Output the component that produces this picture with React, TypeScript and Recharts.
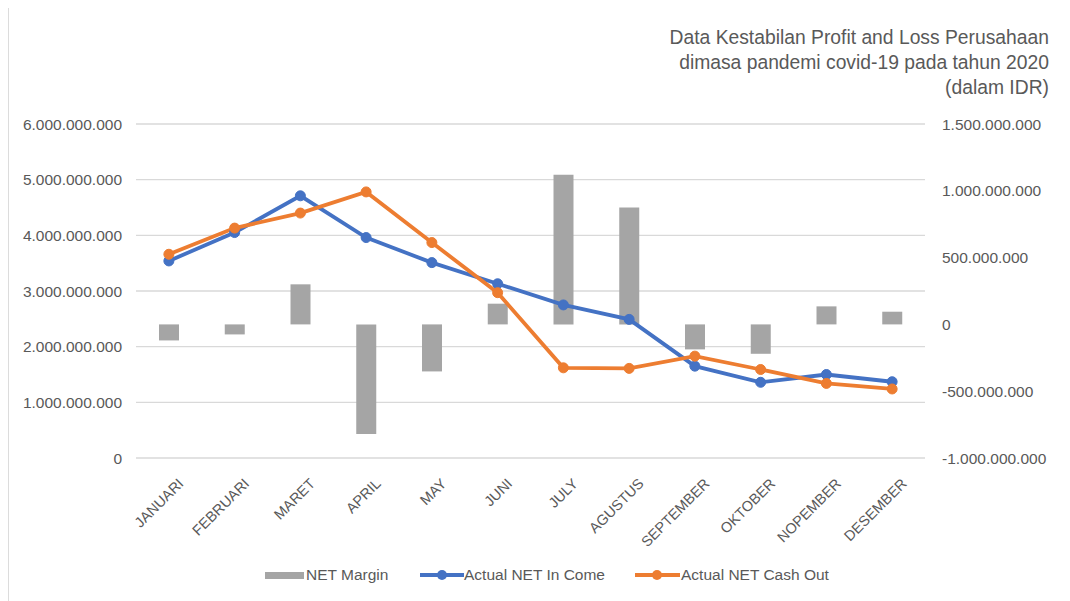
import { Bar, CartesianGrid, ComposedChart, Line, XAxis, YAxis } from 'recharts';

const BLUE = '#4472C4';
const ORANGE = '#ED7D31';
const GRAY = '#A5A5A5';
const GRID = '#D9D9D9';
const TEXT = '#595959';
const FONT = '"Liberation Sans", Arial, sans-serif';

const months = [
  'JANUARI', 'FEBRUARI', 'MARET', 'APRIL', 'MAY', 'JUNI',
  'JULY', 'AGUSTUS', 'SEPTEMBER', 'OKTOBER', 'NOPEMBER', 'DESEMBER',
];

// NET Margin (right axis)
const netMargin = [
  -120e6, -75e6, 300e6, -820e6, -352e6, 155e6,
  1120e6, 875e6, -187e6, -220e6, 135e6, 95e6,
];

// Actual NET In Come (left axis)
const netIncome = [
  3.54e9, 4.05e9, 4.71e9, 3.96e9, 3.51e9, 3.13e9,
  2.75e9, 2.49e9, 1.65e9, 1.36e9, 1.5e9, 1.37e9,
];

// Actual NET Cash Out (left axis)
const netCashOut = [
  3.66e9, 4.13e9, 4.4e9, 4.78e9, 3.87e9, 2.97e9,
  1.62e9, 1.61e9, 1.83e9, 1.59e9, 1.34e9, 1.24e9,
];

const leftTicks = [0, 1e9, 2e9, 3e9, 4e9, 5e9, 6e9];
const rightTicks = [-1e9, -5e8, 0, 5e8, 1e9, 1.5e9];

const titleLines = [
  'Data Kestabilan Profit and Loss Perusahaan',
  'dimasa pandemi covid-19 pada tahun 2020',
  '(dalam IDR)',
];

const data = months.map((m, i) => ({
  month: m,
  margin: netMargin[i],
  income: netIncome[i],
  cashOut: netCashOut[i],
}));

// 1000000000 -> 1.000.000.000
const fmt = (v: number) => {
  const s = String(Math.round(Math.abs(v))).replace(/\B(?=(\d{3})+(?!\d))/g, '.');
  return v < 0 ? `-${s}` : s;
};

const MonthTick = ({ x, y, payload }: any) => {
  const tx = x + 12;
  const ty = y + 15;
  return (
    <text
      x={tx}
      y={ty}
      transform={`rotate(-45, ${tx}, ${ty})`}
      textAnchor="end"
      dominantBaseline="central"
      fill={TEXT}
      fontSize={14.5}
      fontFamily={FONT}
    >
      {payload.value}
    </text>
  );
};

const tickStyle = { fill: TEXT, fontSize: 15.5, fontFamily: FONT };

export default function App() {
  return (
    <div
      style={{
        position: 'relative',
        width: 1070,
        height: 601,
        margin: '-8px 0 0 -8px',
        background: '#fff',
        fontFamily: FONT,
        overflow: 'hidden',
      }}
    >
      {/* faint chart frame, only top and left edges visible */}
      <div
        style={{
          position: 'absolute',
          left: 7,
          top: 4,
          right: -10,
          bottom: -10,
          borderTop: '2px solid #DCDCDC',
          borderLeft: '2px solid #DCDCDC',
        }}
      />

      <div
        style={{
          position: 'absolute',
          right: 21,
          top: 25,
          textAlign: 'right',
          fontSize: 19.3,
          lineHeight: '25px',
          color: TEXT,
        }}
      >
        {titleLines.map((t) => (
          <div key={t}>{t}</div>
        ))}
      </div>

      <div style={{ position: 'absolute', left: 0, top: 0 }}>
        <ComposedChart
          width={1070}
          height={601}
          data={data}
          margin={{ top: 124, right: 15, left: 16, bottom: 63 }}
        >
          <CartesianGrid yAxisId="left" vertical={false} stroke={GRID} strokeWidth={1.3} />
          <XAxis
            dataKey="month"
            axisLine={false}
            tickLine={false}
            interval={0}
            height={80}
            tick={<MonthTick />}
          />
          <YAxis
            yAxisId="left"
            orientation="left"
            width={120}
            domain={[0, 6e9]}
            ticks={leftTicks}
            tickFormatter={fmt}
            axisLine={false}
            tickLine={false}
            tickMargin={8}
            tick={tickStyle}
          />
          <YAxis
            yAxisId="right"
            orientation="right"
            width={130}
            domain={[-1e9, 1.5e9]}
            ticks={rightTicks}
            tickFormatter={fmt}
            axisLine={false}
            tickLine={false}
            tickMargin={11}
            tick={{ ...tickStyle, textAnchor: 'start' }}
          />
          <Bar
            yAxisId="right"
            dataKey="margin"
            name="NET Margin"
            fill={GRAY}
            barSize={20}
            isAnimationActive={false}
          />
          <Line
            yAxisId="left"
            dataKey="income"
            name="Actual NET In Come"
            stroke={BLUE}
            strokeWidth={3.8}
            dot={{ r: 5, fill: BLUE, stroke: BLUE, strokeWidth: 1 }}
            isAnimationActive={false}
          />
          <Line
            yAxisId="left"
            dataKey="cashOut"
            name="Actual NET Cash Out"
            stroke={ORANGE}
            strokeWidth={3.8}
            dot={{ r: 5, fill: ORANGE, stroke: ORANGE, strokeWidth: 1 }}
            isAnimationActive={false}
          />
        </ComposedChart>
      </div>

      {/* legend */}
      <div style={{ position: 'absolute', left: 0, top: 564, fontSize: 15.5, color: TEXT }}>
        <div style={{ position: 'absolute', left: 265, top: 8, width: 39, height: 7, background: GRAY }} />
        <div style={{ position: 'absolute', left: 306, top: 2, whiteSpace: 'nowrap' }}>NET Margin</div>

        <svg style={{ position: 'absolute', left: 420, top: 4 }} width={44} height={14}>
          <line x1={0} y1={7} x2={44} y2={7} stroke={BLUE} strokeWidth={3.8} />
          <circle cx={22} cy={7} r={5} fill={BLUE} />
        </svg>
        <div style={{ position: 'absolute', left: 464, top: 2, whiteSpace: 'nowrap' }}>Actual NET In Come</div>

        <svg style={{ position: 'absolute', left: 635, top: 4 }} width={45} height={14}>
          <line x1={0} y1={7} x2={45} y2={7} stroke={ORANGE} strokeWidth={3.8} />
          <circle cx={22} cy={7} r={5} fill={ORANGE} />
        </svg>
        <div style={{ position: 'absolute', left: 681, top: 2, whiteSpace: 'nowrap' }}>Actual NET Cash Out</div>
      </div>
    </div>
  );
}
